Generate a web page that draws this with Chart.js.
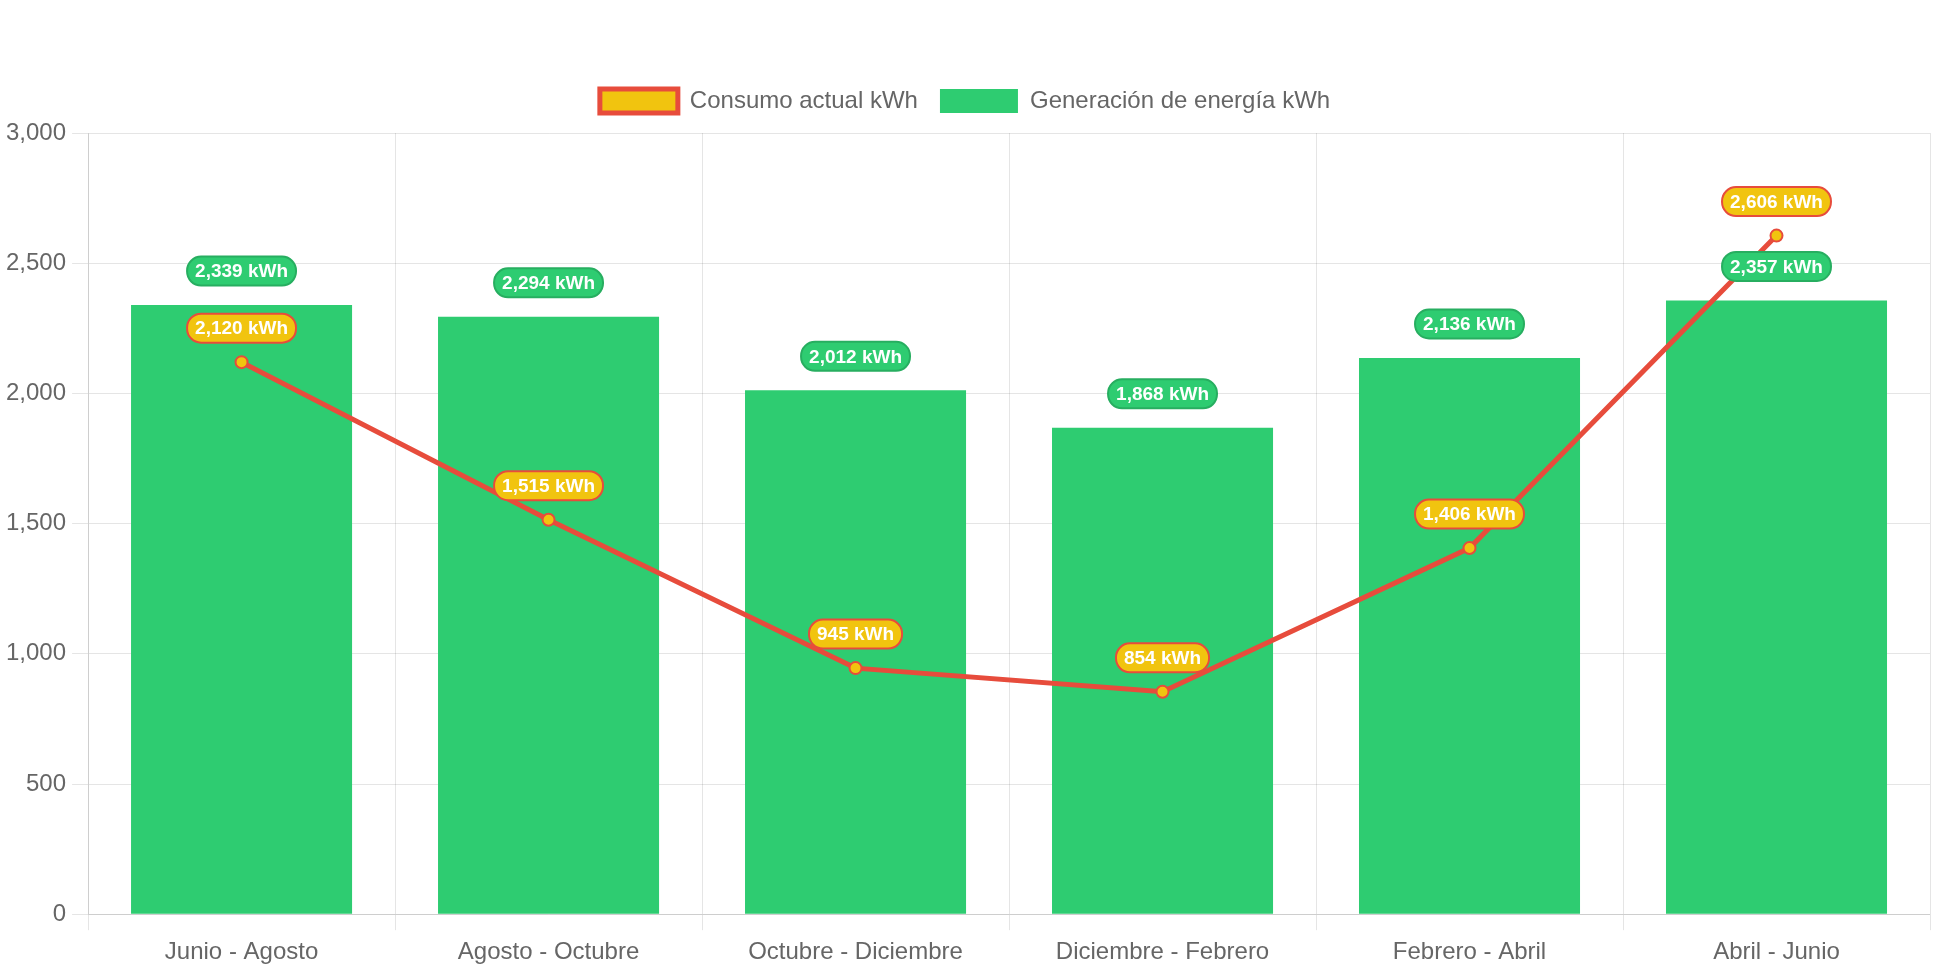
<!DOCTYPE html>
<html>
<head>
<meta charset="utf-8">
<script src="https://cdn.jsdelivr.net/npm/chart.js@4"></script>
<style>
 body{margin:0;background:#fff;}
 #wrap{width:1942px;height:970px;}
</style>
</head>
<body>
<div id="wrap"><canvas id="chart"></canvas></div>
<script>
// Consumo vs generación por periodo

const periodos=["Junio - Agosto","Agosto - Octubre","Octubre - Diciembre","Diciembre - Febrero","Febrero - Abril","Abril - Junio"];
const consumo=[2120,1515,945,854,1406,2606];
const generacion=[2339,2294,2012,1868,2136,2357];

Chart.defaults.font.family="'Liberation Sans', Arial, Helvetica, sans-serif";
Chart.defaults.font.size=24;
Chart.defaults.color="#666";

// etiquetas redondeadas sobre cada punto / barra
const etiquetas={
 id:"etiquetas",
 afterDatasetsDraw(chart){
  const ctx=chart.ctx;
  const orden=[1,0];
  orden.forEach(di=>{
   const ds=chart.data.datasets[di];
   const meta=chart.getDatasetMeta(di);
   meta.data.forEach((el,i)=>{
    const txt=ds.data[i].toLocaleString("en-US")+" kWh";
    ctx.save();
    ctx.font="bold 19px 'Liberation Sans', Arial, sans-serif";
    const w=ctx.measureText(txt).width+16, h=29;
    const cx=el.x, cy=el.y-34;
    ctx.beginPath();
    ctx.roundRect(cx-w/2,cy-h/2,w,h,14);
    ctx.fillStyle=ds.lblFondo;ctx.fill();
    ctx.lineWidth=2;ctx.strokeStyle=ds.lblBorde;ctx.stroke();
    ctx.fillStyle="#fff";ctx.textAlign="center";ctx.textBaseline="middle";
    ctx.fillText(txt,cx,cy+1);
    ctx.restore();
   });
  });
 }
};

// un poco más de aire bajo la leyenda
const espacioLeyenda={
 id:"espacioLeyenda",
 beforeInit(chart){
  const fit=chart.legend.fit;
  chart.legend.fit=function(){fit.bind(chart.legend)();this.height+=10;};
 }
};

new Chart(document.getElementById("chart"),{
 type:"bar",
 data:{
  labels:periodos,
  datasets:[
   {type:"line",label:"Consumo actual kWh",data:consumo,
    borderColor:"#e74c3c",backgroundColor:"#f1c40f",borderWidth:5,tension:0,
    pointRadius:6,pointBorderWidth:2,pointBackgroundColor:"#f1c40f",pointBorderColor:"#e74c3c",
    lblFondo:"#f1c40f",lblBorde:"#e74c3c"},
   {label:"Generación de energía kWh",data:generacion,
    backgroundColor:"#2ecc71",borderColor:"#5ee08f",borderWidth:0,
    lblFondo:"#2ecc71",lblBorde:"#27ae60"}
  ]
 },
 options:{
  responsive:true,maintainAspectRatio:false,animation:false,
  layout:{padding:{top:67,right:12,bottom:-5}},
  plugins:{
   legend:{labels:{boxWidth:78,boxHeight:24,padding:22}},
   tooltip:{enabled:false}
  },
  scales:{
   y:{min:0,max:3000,ticks:{stepSize:500,padding:6},grid:{tickLength:16}},
   x:{ticks:{padding:8},grid:{tickLength:16}}
  }
 },
 plugins:[etiquetas,espacioLeyenda]
});
</script>
</body>
</html>
